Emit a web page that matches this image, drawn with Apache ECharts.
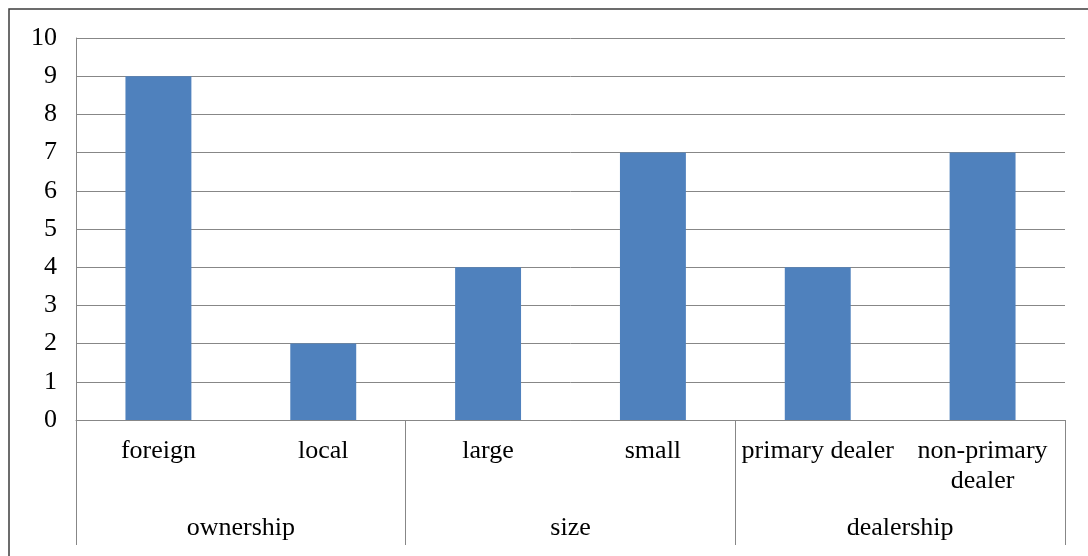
<!DOCTYPE html>
<html>
<head>
<meta charset="utf-8">
<script src="https://cdn.jsdelivr.net/npm/echarts@6/dist/echarts.min.js"></script>
<style>
  html, body { margin: 0; padding: 0; background: #fff; }
  #chart { width: 1088px; height: 556px; }
</style>
</head>
<body>
<div id="chart"></div>
<script>
// Counts per attribute, grouped by classification
const categories = ['foreign', 'local', 'large', 'small', 'primary dealer', 'non-primary\ndealer'];
const values = [9, 2, 4, 7, 4, 7];
const groups = ['ownership', 'size', 'dealership'];
const yTicks = { min: 0, max: 10, interval: 1 };

const font = 'Liberation Serif, Times New Roman, serif';
const gridColor = '#878787';

const chart = echarts.init(document.getElementById('chart'));
chart.setOption({
  animation: false,
  graphic: [{
    type: 'rect',
    shape: { x: 9, y: 9, width: 1200, height: 700 },
    style: { fill: 'none', stroke: '#3c3c3c', lineWidth: 1.5 },
    silent: true
  }],
  grid: { left: 76, right: 23, top: 38, bottom: 136 },
  xAxis: [
    {
      type: 'category',
      data: categories,
      position: 'bottom',
      axisLine: { show: true, lineStyle: { color: gridColor, width: 1 } },
      axisTick: { show: false },
      axisLabel: {
        color: '#000', fontFamily: font, fontSize: 26,
        margin: 16, lineHeight: 30, interval: 0
      }
    },
    {
      type: 'category',
      data: groups,
      position: 'bottom',
      axisLine: { show: false },
      axisTick: { show: true, length: 125, lineStyle: { color: gridColor, width: 1 } },
      axisLabel: {
        color: '#000', fontFamily: font, fontSize: 26,
        margin: 95, interval: 0
      }
    }
  ],
  yAxis: {
    type: 'value',
    min: yTicks.min, max: yTicks.max, interval: yTicks.interval,
    axisLine: { show: true, lineStyle: { color: gridColor, width: 1 } },
    axisTick: { show: false },
    splitLine: { show: true, lineStyle: { color: gridColor, width: 1 } },
    axisLabel: { color: '#000', fontFamily: font, fontSize: 26, margin: 19 }
  },
  series: [{
    type: 'bar',
    xAxisIndex: 0,
    data: values,
    barWidth: '40%',
    itemStyle: { color: '#4F81BD' }
  }]
});
</script>
</body>
</html>
